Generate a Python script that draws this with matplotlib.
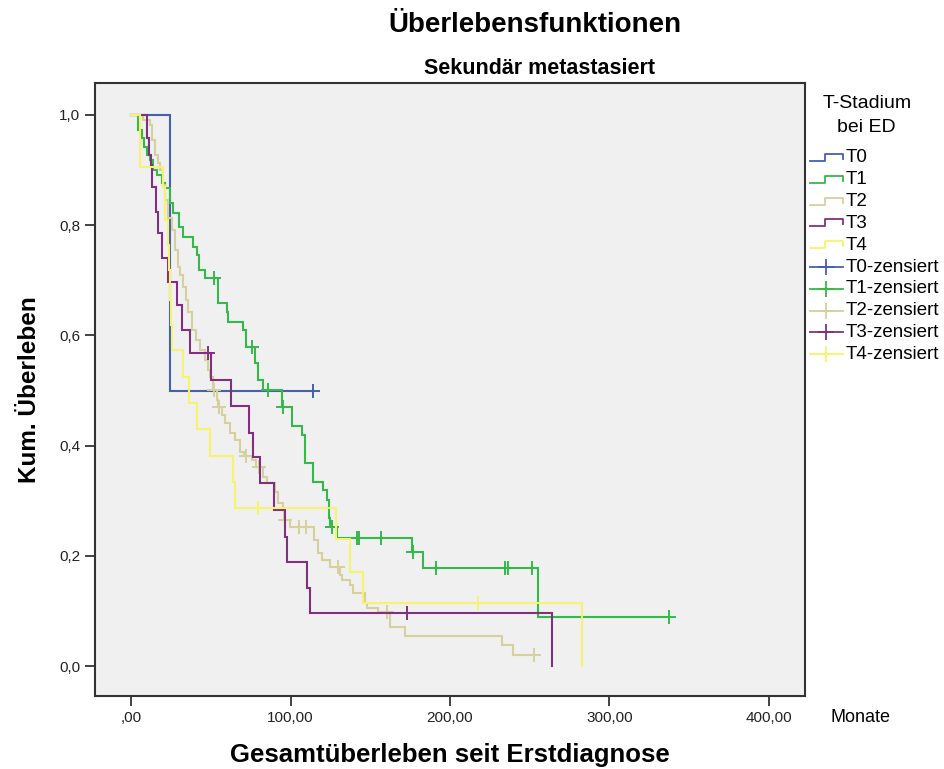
import numpy as np
import matplotlib
matplotlib.use("Agg")
import matplotlib.pyplot as plt
from matplotlib.lines import Line2D

# Kaplan-Meier Stufen je T-Stadium (Zeit in Monaten, Überleben nach dem Ereignis)
t0_times = [24.5]
t0_surv = [0.5]
t0_end = 114.1
t0_cens = [114.1]

t1_times = [4.4, 6.9, 8.2, 10.0, 11.9, 13.8, 16.3, 19.4, 21.3, 24.5, 26.3, 30.1, 32.6,
            38.9, 41.4, 42.6, 46.4, 54.5, 60.2, 60.8, 70.2, 72.1, 77.7, 79.6, 82.8,
            94.7, 100.9, 107.2, 109.1, 114.1, 120.4, 122.9, 124.1, 124.8, 129.2,
            176.2, 183.1, 255.2]
t1_surv = [0.973, 0.958, 0.942, 0.927, 0.918, 0.900, 0.891, 0.877, 0.868, 0.840, 0.822,
           0.797, 0.779, 0.760, 0.746, 0.719, 0.704, 0.659, 0.642, 0.624, 0.610, 0.579,
           0.550, 0.519, 0.501, 0.470, 0.436, 0.419, 0.368, 0.334, 0.319, 0.301, 0.269,
           0.252, 0.232, 0.207, 0.178, 0.089]
t1_end = 337.3
t1_cens = [52.0, 75.9, 85.9, 95.5, 126.0, 141.7, 142.9, 156.7, 176.8, 191.2,
           234.5, 236.4, 251.4, 337.3]

t2_times = [7.5, 11.9, 13.2, 15.0, 16.9, 18.2, 20.1, 21.3, 23.2, 25.7, 27.6, 29.5, 30.7,
            32.6, 34.5, 35.7, 38.2, 40.8, 43.3, 46.4, 48.3, 49.5, 51.4, 53.9, 54.5,
            57.1, 58.9, 62.1, 65.2, 68.3, 70.8, 75.9, 78.4, 82.8, 85.3, 90.3, 92.2,
            95.3, 95.9, 99.7, 114.7, 117.2, 119.7, 124.8, 131.0, 132.3, 137.3, 139.2,
            146.7, 148.0, 154.9, 162.4, 171.8, 232.6, 239.5]
t2_surv = [0.991, 0.982, 0.955, 0.927, 0.913, 0.900, 0.873, 0.846, 0.813, 0.791, 0.755,
           0.724, 0.710, 0.688, 0.664, 0.642, 0.610, 0.592, 0.574, 0.555, 0.537, 0.525,
           0.501, 0.483, 0.470, 0.456, 0.441, 0.423, 0.410, 0.388, 0.381, 0.374, 0.361,
           0.343, 0.332, 0.316, 0.296, 0.283, 0.265, 0.252, 0.229, 0.205, 0.192, 0.180,
           0.165, 0.156, 0.147, 0.132, 0.114, 0.105, 0.098, 0.071, 0.054, 0.038, 0.020]
t2_end = 252.7
t2_cens = [52.0, 55.2, 72.1, 80.3, 96.6, 105.6, 109.7, 129.8, 160.5, 252.7]

t3_times = [10.0, 11.3, 12.5, 13.2, 15.7, 16.9, 19.4, 23.2, 28.8, 32.0, 37.0, 50.2,
            62.7, 74.0, 76.5, 80.9, 89.7, 96.6, 97.8, 110.3, 112.2, 264.0]
t3_surv = [0.958, 0.927, 0.909, 0.869, 0.824, 0.786, 0.740, 0.697, 0.655, 0.610, 0.568,
           0.519, 0.472, 0.423, 0.379, 0.332, 0.283, 0.234, 0.189, 0.142, 0.096, 0.0]
t3_end = 264.0
t3_cens = [48.3, 173.0]

t4_times = [5.6, 20.1, 21.3, 23.2, 23.8, 24.5, 25.1, 25.7, 32.6, 36.4, 41.4, 49.5,
            63.9, 65.2, 128.5, 137.3, 145.5, 282.8]
t4_surv = [0.906, 0.869, 0.809, 0.764, 0.719, 0.664, 0.619, 0.574, 0.525, 0.477, 0.430,
           0.381, 0.334, 0.287, 0.230, 0.171, 0.114, 0.0]
t4_end = 282.8
t4_cens = [79.6, 217.6]

labels = ["T0", "T1", "T2", "T3", "T4"]
colors = ["#4560B0", "#34B94A", "#D5D09C", "#80307F", "#F7F36E"]

groups = [
    (t0_times, t0_surv, t0_end, t0_cens),
    (t1_times, t1_surv, t1_end, t1_cens),
    (t2_times, t2_surv, t2_end, t2_cens),
    (t3_times, t3_surv, t3_end, t3_cens),
    (t4_times, t4_surv, t4_end, t4_cens),
]

W, H = 945, 769
fig = plt.figure(figsize=(W / 100, H / 100), dpi=100)
ax = fig.add_axes([95 / W, 1 - 696 / H, 710 / W, 613 / H])
ax.set_facecolor("#F0F0F0")

for (times, surv, end, cens), col in zip(groups, colors):
    xs = np.r_[0.0, times, end]
    ys = np.r_[1.0, surv, surv[-1]]
    ax.step(xs, ys, where="post", color=col, lw=1.5, solid_joinstyle="miter")
    idx = np.searchsorted(xs, cens, side="right") - 1
    ax.plot(cens, ys[idx], ls="none", marker="+", ms=10, mew=1.4, color=col)

ax.set_xlim(-22.6, 422.6)
ax.set_ylim(-0.054, 1.058)
ax.set_xticks([0, 100, 200, 300, 400])
ax.set_xticklabels([",00", "100,00", "200,00", "300,00", "400,00"])
ax.set_yticks([0, 0.2, 0.4, 0.6, 0.8, 1.0])
ax.set_yticklabels(["0,0", "0,2", "0,4", "0,6", "0,8", "1,0"])
ax.tick_params(direction="out", length=7, width=1.2, labelsize=11, colors="#222222")
for s in ax.spines.values():
    s.set_linewidth(1.5)
    s.set_color("#333333")

sans = ["Liberation Sans", "DejaVu Sans"]
for lab in ax.get_xticklabels() + ax.get_yticklabels():
    lab.set_family(sans)

fig.text(535 / W, 1 - 25 / H, "Überlebensfunktionen", ha="center", va="center",
         fontsize=20, fontweight="bold", family=sans)
fig.text(539 / W, 1 - 69 / H, "Sekundär metastasiert", ha="center", va="center",
         fontsize=15.5, fontweight="bold", family=sans)
fig.text(30 / W, 1 - 390 / H, "Kum. Überleben", ha="center", va="center", rotation=90,
         fontsize=17.5, fontweight="bold", family=sans)
fig.text(450 / W, 1 - 755 / H, "Gesamtüberleben seit Erstdiagnose", ha="center",
         va="center", fontsize=18.5, fontweight="bold", family=sans)
fig.text(861 / W, 1 - 718 / H, "Monate", ha="center", va="center", fontsize=13,
         family=sans)

# Legende rechts
fig.text(867 / W, 1 - 104 / H, "T-Stadium", ha="center", va="center", fontsize=14,
         family=sans)
fig.text(866 / W, 1 - 127 / H, "bei ED", ha="center", va="center", fontsize=14,
         family=sans)

def fx(x):
    return x / W

def fy(y):
    return 1 - y / H

row_y = 158
for lab, col in zip(labels, colors):
    xs = [810, 825, 825, 843, 843]
    ys = [row_y + 3, row_y + 3, row_y - 4, row_y - 4, row_y + 1]
    fig.add_artist(Line2D([fx(v) for v in xs], [fy(v) for v in ys], color=col, lw=1.3,
                          transform=fig.transFigure))
    fig.text(fx(846), fy(row_y), lab, ha="left", va="center", fontsize=13.5, family=sans)
    row_y += 21.8
for lab, col in zip(labels, colors):
    fig.add_artist(Line2D([fx(810), fx(843)], [fy(row_y), fy(row_y)], color=col, lw=1.3,
                          transform=fig.transFigure))
    fig.add_artist(Line2D([fx(826)], [fy(row_y)], color=col, marker="+", ms=11, mew=1.3,
                          transform=fig.transFigure))
    fig.text(fx(846), fy(row_y), lab + "-zensiert", ha="left", va="center", fontsize=13.5,
             family=sans)
    row_y += 21.8

fig.savefig("out.png", dpi=100)
